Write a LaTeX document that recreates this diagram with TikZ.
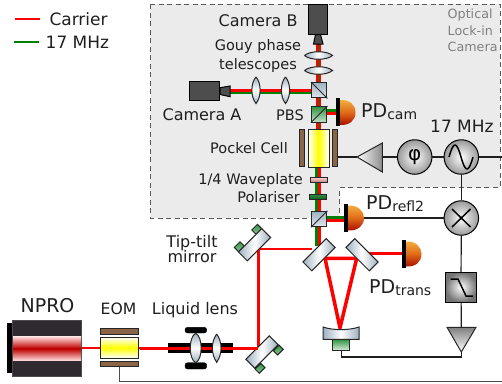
\documentclass[tikz,border=0pt]{standalone}
\usepackage{fontspec}
\setmainfont{DejaVu Sans}
\usetikzlibrary{arrows.meta, positioning, calc}
\definecolor{BeamRed}{HTML}{FF0000}
\definecolor{BeamGreen}{HTML}{008000}
\definecolor{BoxGrey}{HTML}{EBEBEB}
\definecolor{GlassBlue}{HTML}{9DB0C0}
\definecolor{PlateBrown}{HTML}{8A6547}
\definecolor{CamGrey}{HTML}{4D4D4D}
\definecolor{LaserBody}{HTML}{2E2A30}
\definecolor{TabGreen}{HTML}{2F9440}
\definecolor{DiodeTop}{HTML}{F2B040}
\definecolor{DiodeMid}{HTML}{E06A18}
\definecolor{DiodeLow}{HTML}{A80A00}
\newcommand{\pdtext}[1]{\fontsize{19}{19}\selectfont PD\raisebox{-2.5pt}{\fontsize{14}{14}\selectfont #1}}
\tikzset{
  labelbig/.style={inner sep=0, font=\fontsize{17}{17}\selectfont, color=black!88},
  labelmid/.style={inner sep=0, font=\fontsize{16}{18.5}\selectfont, color=black!88},
  labelsmall/.style={inner sep=0, font=\fontsize{14.5}{18.3}\selectfont, color=black!88},
  wire/.style={color=black!88, line width=1.2pt},
  carrier/.style={color=BeamRed, line width=2.5pt},
  sideband/.style={color=BeamGreen, line width=2.5pt},
  optic/.style={draw=black!85, line width=1pt},
  glass/.style={optic, left color=GlassBlue, right color=GlassBlue, middle color=white},
  glassv/.style={optic, top color=GlassBlue, bottom color=GlassBlue, middle color=white},
  cube/.style={optic, inner sep=0, minimum size=15.5, top color=GlassBlue, bottom color=GlassBlue!30},
  mirrorbar/.style={glass, inner sep=0, minimum width=33, minimum height=12.5},
  tab/.style={optic, inner sep=0, minimum width=8, minimum height=6, top color=TabGreen, bottom color=TabGreen!55},
  plate/.style={optic, inner sep=0, fill=PlateBrown},
  camerabody/.style={draw=black, line width=1pt, fill=CamGrey, inner sep=0},
  rfcircle/.style={circle, draw=black, line width=1pt, inner sep=0, minimum size=34.5, inner color=white, outer color=black!40},
  diode/.style={draw=none, top color=DiodeTop, bottom color=DiodeLow, middle color=DiodeMid},
  diodebar/.style={fill=black, inner sep=0, minimum width=4, minimum height=28}
}

\begin{document}
\begin{tikzpicture}[x=1pt, y=-1pt]
    \useasboundingbox (0,0) rectangle (502,383);

    \draw[draw=black!65, fill=BoxGrey, line width=1pt, dash pattern=on 5pt off 3.5pt] (150.3,4) -- (500,4) -- (500,187.5) -- (339.5,187.5) -- (339.5,218) -- (150.3,218) -- cycle;

    % legend
    \coordinate (keyA) at (15,19);
    \coordinate (keyB) at (40,19);
    \coordinate (keyC) at (14,42);
    \coordinate (keyD) at (39,42);
    \draw[carrier] (keyA) -- (keyB);
    \draw[sideband] (keyC) -- (keyD);
    \node[labelbig, anchor=base west] (txtcarrier) at (49.3,25) {Carrier};
    \node[labelbig, anchor=base west] (txtmhz) at (45.5,48.3) {17 MHz};

    % beams
    \coordinate (beamtop) at (318.5,44);
    \coordinate (beamcam) at (318.5,169);
    \coordinate (camlink) at (230,91);
    \coordinate (cublink) at (312,91);
    \draw[color=BeamRed, line width=5pt] (beamtop) -- (beamcam);
    \draw[color=BeamGreen, line width=1.8pt] (beamtop) -- (beamcam);
    \draw[color=BeamGreen, line width=5pt] (camlink) -- (cublink);
    \draw[color=BeamRed, line width=2.8pt] ($(camlink)+(0,-0.9)$) -- ($(cublink)+(0,-0.9)$);
    \draw[sideband] (316.3,165) -- (316.3,246);
    \draw[carrier] (319.3,165) -- (319.3,250);
    \draw[sideband] (327,110.5) -- (337,110.5);
    \draw[carrier] (327,113.5) -- (337,113.5);
    \draw[sideband] (327,217.5) -- (345,217.5);
    \draw[carrier] (327,220.5) -- (345,220.5);
    \coordinate (cornerA) at (258.5,249);
    \coordinate (cornerB) at (258.5,348);
    \draw[carrier, line join=miter] (312,249) -- (cornerA) -- (cornerB) -- (82,348);
    \draw[carrier] (368,253.7) -- (403,253.7);
    \draw[color=BeamRed, line width=3.5pt, line join=miter] (325,258.3) -- (356.7,258.3) -- (340,328) -- cycle;

    % cameras and imaging
    \node[camerabody, minimum width=30, minimum height=19] (cama) at (204,90.5) {};
    \draw[camerabody] (220,87.7) -- (230,86) -- (230,96.7) -- (220,94.5) -- cycle;
    \node[camerabody, minimum width=18.6, minimum height=29.5] (camb) at (318,19.3) {};
    \draw[camerabody] (315.5,34.5) -- (320.5,34.5) -- (323,44) -- (313.5,44) -- cycle;

    \draw[glass] (304.5,55.5) .. controls (310,50.5) and (327,50.5) .. (332.5,55.5) .. controls (327,60.5) and (310,60.5) .. (304.5,55.5);
    \draw[glass] (304.5,70.5) .. controls (310,65.5) and (327,65.5) .. (332.5,70.5) .. controls (327,75.5) and (310,75.5) .. (304.5,70.5);
    \draw[glassv] (256,77) .. controls (261.5,83) and (261.5,97) .. (256,103.5) .. controls (250.5,97) and (250.5,83) .. (256,77);
    \draw[glassv] (285.5,77) .. controls (291,83) and (291,97) .. (285.5,103.5) .. controls (280,97) and (280,83) .. (285.5,77);

    \node[cube] (bscube) at (319.2,90.2) {};
    \draw[optic] (bscube.north west) -- (bscube.south east);
    \node[cube, top color=TabGreen, bottom color=TabGreen!30] (pbscube) at (319.2,114.3) {};
    \draw[optic] (pbscube.south west) -- (pbscube.north east);
    \node[cube] (refcube) at (319.2,219) {};
    \draw[optic] (refcube.south west) -- (refcube.north east);

    % pockels cell and polarisation optics
    \node[optic, inner sep=0, minimum width=21, minimum height=38, left color=white, right color=white, middle color=yellow] (pockel) at (318.5,148) {};
    \node[plate, minimum width=5.3, minimum height=37.5] (platel) at (302.3,148) {};
    \node[plate, minimum width=5.3, minimum height=37.5] (plater) at (335,148) {};
    \node[optic, inner sep=0, minimum width=17.5, minimum height=5.3, top color=red!20, bottom color=red!45!black!55] (wavepl) at (318.8,180.3) {};
    \node[optic, inner sep=0, minimum width=17.5, minimum height=5.3, top color=TabGreen, bottom color=TabGreen!60!black] (polar) at (318.2,196.7) {};

    % photodiodes
    \draw[diode] (340,100) .. controls (350,99.5) and (355.5,105) .. (355.5,112.5) .. controls (355.5,120) and (350,125.5) .. (340,125) -- cycle;
    \node[diodebar] (pdcam) at (338,112) {};
    \draw[diode] (348,205.5) .. controls (358,205) and (364,211) .. (364,218) .. controls (364,225.5) and (358,231) .. (348,230.5) -- cycle;
    \node[diodebar] (pdrefl) at (346,218) {};
    \draw[diode] (406,241.5) .. controls (416,241) and (421.5,247) .. (421.5,254) .. controls (421.5,261.5) and (416,267) .. (406,266.5) -- cycle;
    \node[diodebar] (pdtrans) at (404,254) {};

    % steering mirrors
    \node[tab, rotate=45] (tabA) at (256.7,229.3) {};
    \node[tab, rotate=45] (tabB) at (239.3,246.7) {};
    \node[mirrorbar, rotate=45] (tiptilt) at (254.5,244.7) {};
    \node[tab, rotate=45] (tabC) at (278.3,350) {};
    \node[tab, rotate=45] (tabD) at (260,368.3) {};
    \node[mirrorbar, rotate=45] (lowmirror) at (262,352) {};
    \node[mirrorbar, rotate=45] (cavA) at (319,254.7) {};
    \node[mirrorbar, rotate=-45] (cavB) at (362,254.7) {};

    % curved cavity mirror
    \draw[glass] (323,327) .. controls (333,330.5) and (349,330.5) .. (359,327) -- (359,339.3) -- (323,339.3) -- cycle;
    \node[optic, inner sep=0, minimum width=17.5, minimum height=11.5, top color=TabGreen, bottom color=TabGreen!15] (pzt) at (341,345) {};

    % laser bench
    \node[fill=black, inner sep=0, minimum width=6, minimum height=50] (npcap) at (9.7,348.2) {};
    \node[draw=black!70, fill=LaserBody, line width=0.6pt, inner sep=0, minimum width=69.5, minimum height=55.5] (npro) at (47,348.4) {};
    \node[inner sep=0, minimum width=68, minimum height=11.5, anchor=south, top color=red!15, bottom color=red!75!black] (npup) at (47,348.5) {};
    \node[inner sep=0, minimum width=68, minimum height=11.5, anchor=north, top color=red!75!black, bottom color=red!15] (npdown) at (47,348.5) {};

    \node[optic, inner sep=0, minimum width=38.5, minimum height=21, top color=white, bottom color=white, middle color=yellow] (eom) at (119.7,347.7) {};
    \node[plate, minimum width=38.5, minimum height=5.6] (eomup) at (119.7,331.2) {};
    \node[plate, minimum width=38.5, minimum height=5.6] (eomlow) at (119.7,364) {};

    \coordinate (tubeL) at (168,347.5);
    \coordinate (tubeR) at (232.7,347.5);
    \draw[color=black, line width=10pt] (tubeL) -- (tubeR);
    \draw[carrier] (140,348.3) -- (258,348.3);
    \draw[fill=black, rounded corners=2.5pt] (185,333) -- (185,327.3) -- (206.7,327.3) -- (206.7,333) -- cycle;
    \draw[fill=black, rounded corners=2.5pt] (185,362.7) -- (185,369) -- (206.7,369) -- (206.7,362.7) -- cycle;
    \draw[glassv] (195.7,333.3) .. controls (203,337) and (203,359) .. (195.7,362.7) .. controls (188.4,359) and (188.4,337) .. (195.7,333.3);
    \draw[glassv] (216.7,334) .. controls (222.5,342) and (222.5,354) .. (216.7,362.3) .. controls (210.9,354) and (210.9,342) .. (216.7,334);

    % electronics
    \node[rfcircle] (osc) at (461.3,157) {};
    \node[rfcircle, font=\fontsize{20}{20}\selectfont] (phase) at (414.7,157) {φ};
    \node[rfcircle] (mixer) at (461.3,218) {};
    \node[draw=black, line width=1pt, inner sep=0, minimum width=31.4, minimum height=30, inner color=white, outer color=black!55] (filter) at (461,287.3) {};
    \coordinate (ampAtip) at (357,157);
    \coordinate (ampAbase) at (382.3,157);
    \coordinate (ampBtop) at (461.3,327.3);
    \coordinate (ampBtip) at (461.3,352);
    \coordinate (edgeA) at (502,157);
    \coordinate (edgeB) at (502,381.7);
    \coordinate (pztdrop) at (341.7,357);
    \draw[optic, left color=white, right color=black!45] (ampAtip) -- (382.3,143) -- (382.3,172) -- cycle;
    \draw[optic, top color=black!50, bottom color=white] (447,327.3) -- (476,327.3) -- (ampBtip) -- cycle;

    \draw[wire] (ampAtip) -- (ampAtip -| plater.east);
    \draw[wire] (ampAbase) -- (phase);
    \draw[wire] (phase) -- (osc);
    \draw[wire] (osc) -- (edgeA);
    \draw[wire] (osc) -- (mixer);
    \draw[wire] (364,218) -- (mixer);
    \draw[wire] (mixer) -- (filter);
    \draw[wire] (filter) -- (ampBtop);
    \draw[wire] (ampBtip) |- (pztdrop) -- (pzt.south -| pztdrop);
    \draw[color=black!70, line width=1.5pt] (eomlow.south) |- (edgeB);

    \draw[line width=1.5pt] (449,157) .. controls (453.5,141) and (456.5,141) .. (461,157) .. controls (465.5,173) and (468.5,173) .. (473,157);
    \draw[line width=1.5pt] (452,209) -- (470.5,227);
    \draw[line width=1.5pt] (470.5,209) -- (452,227);
    \draw[line width=1.5pt] (450.7,279) -- (458,279) -- (466,296) -- (473,296);

    % labels
    \node[labelmid, anchor=base east] (txtcamb) at (297.7,26) {Camera B};
    \node[labelsmall, anchor=base] (txtgouy) at (258,50.7) {Gouy phase};
    \node[labelsmall, anchor=base] (txttele) at (258,69) {telescopes};
    \node[labelmid, anchor=base] (txtcama) at (202,120.7) {Camera A};
    \node[labelsmall, anchor=base east] (txtpbs) at (304,120.7) {PBS};
    \node[labelsmall, anchor=base east] (txtpock) at (288,153.3) {Pockel Cell};
    \node[labelsmall, anchor=base east] (txtwave) at (303,184.3) {1/4 Waveplate};
    \node[labelsmall, anchor=base east] (txtpola) at (300,202.3) {Polariser};
    \node[inner sep=0, anchor=base west, color=black!50, font=\fontsize{12.7}{12.7}\selectfont] (txtopt) at (447.5,18.3) {Optical};
    \node[inner sep=0, anchor=base west, color=black!50, font=\fontsize{12.7}{12.7}\selectfont] (txtlock) at (447.5,35.7) {Lock-in};
    \node[inner sep=0, anchor=base west, color=black!50, font=\fontsize{12.7}{12.7}\selectfont] (txtcam) at (447.5,51) {Camera};
    \node[inner sep=0, anchor=base west, color=black!88] (txtpdcam) at (361,117.3) {\pdtext{cam}};
    \node[labelbig, anchor=base west] (txtrf) at (430,132.7) {17 MHz};
    \node[inner sep=0, anchor=base west, color=black!88] (txtpdrefl) at (366,209.3) {\pdtext{refl2}};
    \node[inner sep=0, anchor=base west, color=black!88] (txtpdtrans) at (369,293.3) {\pdtext{trans}};
    \node[labelmid, anchor=base] (txttip) at (192,247.3) {Tip-tilt};
    \node[labelmid, anchor=base] (txtmirror) at (192,262.7) {mirror};
    \node[inner sep=0, anchor=base, color=black!88, font=\fontsize{19}{19}\selectfont] (txtnpro) at (47.5,312.7) {NPRO};
    \node[inner sep=0, anchor=base, color=black!88, font=\fontsize{15.6}{15.6}\selectfont] (txteom) at (118.5,314) {EOM};
    \node[labelmid, anchor=base] (txtlens) at (195,314) {Liquid lens};
\end{tikzpicture}
\end{document}
